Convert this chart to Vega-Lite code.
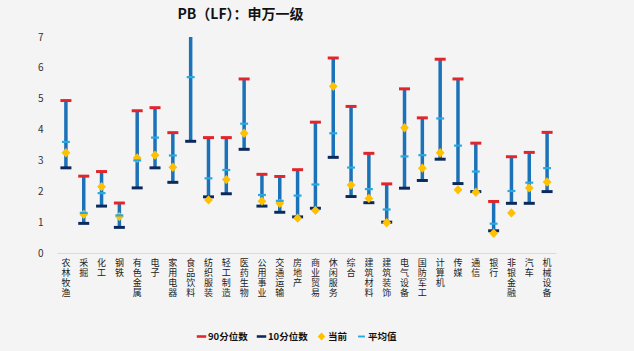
{
  "$schema": "https://vega.github.io/schema/vega-lite/v6.json",
  "width": 634,
  "height": 351,
  "autosize": {"type": "fit", "contains": "padding"},
  "padding": {"left": 37, "top": 8, "right": 78, "bottom": 54},
  "background": "#f4f4f4",
  "config": {"view": {"stroke": null}, "font": "Noto Sans CJK SC"},
  "title": {"text": "PB（LF）：申万一级", "fontSize": 14, "fontWeight": "bold", "color": "#111", "dx": -66, "offset": 10, "font": "Noto Sans CJK SC"},
  "data": {"values": [
    {"name": "农林牧渔", "90分位数": 4.94, "10分位数": 2.76, "当前": 3.25, "平均值": 3.6},
    {"name": "采掘", "90分位数": 2.49, "10分位数": 0.96, "当前": 1.25, "平均值": 1.3},
    {"name": "化工", "90分位数": 2.64, "10分位数": 1.52, "当前": 2.15, "平均值": 1.94},
    {"name": "钢铁", "90分位数": 1.62, "10分位数": 0.83, "当前": 1.18, "平均值": 1.22},
    {"name": "有色金属", "90分位数": 4.61, "10分位数": 2.11, "当前": 3.08, "平均值": 3.0},
    {"name": "电子", "90分位数": 4.71, "10分位数": 2.76, "当前": 3.17, "平均值": 3.74},
    {"name": "家用电器", "90分位数": 3.9, "10分位数": 2.29, "当前": 2.78, "平均值": 3.16},
    {"name": "食品饮料", "90分位数": 7.8, "10分位数": 3.62, "当前": 8.3, "平均值": 5.7},
    {"name": "纺织服装", "90分位数": 3.74, "10分位数": 1.82, "当前": 1.72, "平均值": 2.42},
    {"name": "轻工制造", "90分位数": 3.74, "10分位数": 1.92, "当前": 2.38, "平均值": 2.69},
    {"name": "医药生物", "90分位数": 5.64, "10分位数": 3.36, "当前": 3.88, "平均值": 4.19},
    {"name": "公用事业", "90分位数": 2.55, "10分位数": 1.52, "当前": 1.68, "平均值": 1.88},
    {"name": "交通运输", "90分位数": 2.48, "10分位数": 1.32, "当前": 1.61, "平均值": 1.69},
    {"name": "房地产", "90分位数": 2.7, "10分位数": 1.17, "当前": 1.13, "平均值": 1.86},
    {"name": "商业贸易", "90分位数": 4.24, "10分位数": 1.45, "当前": 1.38, "平均值": 2.22},
    {"name": "休闲服务", "90分位数": 6.32, "10分位数": 3.1, "当前": 5.4, "平均值": 3.88},
    {"name": "综合", "90分位数": 4.75, "10分位数": 1.83, "当前": 2.2, "平均值": 2.77},
    {"name": "建筑材料", "90分位数": 3.23, "10分位数": 1.63, "当前": 1.77, "平均值": 2.07},
    {"name": "建筑装饰", "90分位数": 2.24, "10分位数": 1.0, "当前": 0.98, "平均值": 1.41},
    {"name": "电气设备", "90分位数": 5.32, "10分位数": 2.1, "当前": 4.06, "平均值": 3.13},
    {"name": "国防军工", "90分位数": 4.38, "10分位数": 2.35, "当前": 2.75, "平均值": 3.17},
    {"name": "计算机", "90分位数": 6.28, "10分位数": 3.04, "当前": 3.25, "平均值": 4.36},
    {"name": "传媒", "90分位数": 5.64, "10分位数": 2.25, "当前": 2.05, "平均值": 3.48},
    {"name": "通信", "90分位数": 3.56, "10分位数": 1.99, "当前": 1.97, "平均值": 2.64},
    {"name": "银行", "90分位数": 1.67, "10分位数": 0.72, "当前": 0.64, "平均值": 0.95},
    {"name": "非银金融", "90分位数": 3.12, "10分位数": 1.61, "当前": 1.3, "平均值": 2.01},
    {"name": "汽车", "90分位数": 3.26, "10分位数": 1.61, "当前": 2.11, "平均值": 2.28},
    {"name": "机械设备", "90分位数": 3.91, "10分位数": 1.99, "当前": 2.3, "平均值": 2.75}
  ]},
  "encoding": {
    "x": {"field": "name", "type": "nominal", "sort": null, "scale": {"paddingInner": 0, "paddingOuter": 0},
      "axis": {"title": null, "ticks": false, "labelAngle": 0, "labelExpr": "split(datum.value, '')", "labelBaseline": "top", "labelFontSize": 9, "labelLineHeight": 10, "labelColor": "#222", "domainColor": "#d9d9d9", "labelPadding": 5}}
  },
  "layer": [
    {
      "mark": {"type": "rule", "strokeWidth": 3.5, "color": "#1b72b8", "clip": true},
      "encoding": {
        "y": {"field": "10分位数", "type": "quantitative", "scale": {"domain": [0, 7], "nice": false},
          "axis": {"title": null, "values": [0,1,2,3,4,5,6,7], "labelOverlap": false, "grid": false, "ticks": false, "domain": false, "labelFontSize": 10, "labelColor": "#333", "labelPadding": 14}},
        "y2": {"field": "90分位数"}
      }
    },
    {
      "transform": [{"fold": ["90分位数", "10分位数", "当前", "平均值"], "as": ["key", "value"]}],
      "mark": {"type": "point", "filled": true, "opacity": 1, "size": 121, "clip": true},
      "encoding": {
        "y": {"field": "value", "type": "quantitative",
          "axis": {"title": null, "values": [0,1,2,3,4,5,6,7], "labelOverlap": false, "grid": false, "ticks": false, "domain": false, "labelFontSize": 10, "labelColor": "#333", "labelPadding": 14}},
        "color": {"field": "key", "type": "nominal",
          "scale": {"domain": ["90分位数", "10分位数", "当前", "平均值"], "range": ["#e3242b", "#0b2a5b", "#ffc000", "#29a9e0"]},
          "legend": {"title": null, "orient": "none", "legendX": 139, "legendY": 294, "direction": "horizontal", "columns": 4, "labelFontSize": 9.5, "labelFontWeight": "bold", "labelColor": "#111", "symbolSize": 90, "columnPadding": 8, "symbolOffset": 0, "labelOffset": 1, "labelLimit": 200}},
        "shape": {"field": "key", "type": "nominal",
          "scale": {"domain": ["90分位数", "10分位数", "当前", "平均值"], "range": ["M-1,-0.27H1V0.27H-1Z", "M-1,-0.27H1V0.27H-1Z", "M0,-0.85L0.8,0L0,0.85L-0.8,0Z", "M-0.72,-0.2H0.72V0.2H-0.72Z"]}}
      }
    }
  ]
}
